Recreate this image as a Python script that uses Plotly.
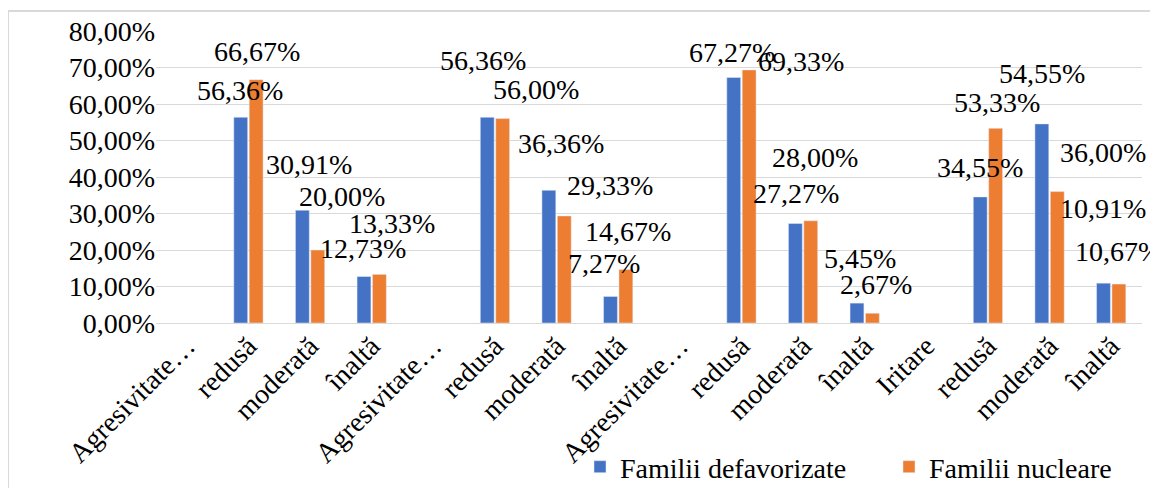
import plotly.graph_objects as go

categories = ["Agresivitate…", "redusă", "moderată", "înaltă",
              "Agresivitate…", "redusă", "moderată", "înaltă",
              "Agresivitate…", "redusă", "moderată", "înaltă",
              "Iritare", "redusă", "moderată", "înaltă"]
defavorizate = [None, 56.36, 30.91, 12.73, None, 56.36, 36.36, 7.27,
                None, 67.27, 27.27, 5.45, None, 34.55, 54.55, 10.91]
nucleare = [None, 66.67, 20.00, 13.33, None, 56.00, 29.33, 14.67,
            None, 69.33, 28.00, 2.67, None, 53.33, 36.00, 10.67]
series_names = ["Familii defavorizate", "Familii nucleare"]
y_ticks = [0, 10, 20, 30, 40, 50, 60, 70, 80]
y_tick_labels = ["0,00%", "10,00%", "20,00%", "30,00%", "40,00%",
                 "50,00%", "60,00%", "70,00%", "80,00%"]

# label offsets (px) relative to bar top / category centre, as placed in the original
blue_shift = [None, (-8, 27), (-1, 46), (-9, 28), None, (-12, 57), (4, 47), (-14, 33),
              None, (-9, 25), (-7, 30), (-5, 45), None, (-8, 29), (-8, 50), (-8, 75)]
orange_shift = [None, (9, 28), (32, 54), (20, 51), None, (41, 29), (53, 30), (10, 38),
                None, (60, 8), (12, 63), (11, 29), None, (9, 26), (53, 39), (7, 33)]

FONT = "Times New Roman"
FS = 28
BLUE = "#4472C4"
ORANGE = "#ED7D31"

x = list(range(len(categories)))

fig = go.Figure()
fig.add_trace(go.Bar(x=x, y=defavorizate, name=series_names[0], marker_color=BLUE))
fig.add_trace(go.Bar(x=x, y=nucleare, name=series_names[1], marker_color=ORANGE))


def fmt(v):
    return f"{v:.2f}".replace(".", ",") + "%"


annotations = []
for vals, shifts in ((defavorizate, blue_shift), (nucleare, orange_shift)):
    for i, v in enumerate(vals):
        if v is None:
            continue
        dx, dy = shifts[i]
        annotations.append(dict(x=i, y=v, xref="x", yref="y", text=fmt(v),
                                showarrow=False, xshift=dx, yshift=dy,
                                xanchor="center", yanchor="middle",
                                font=dict(family=FONT, size=FS, color="#000000")))

W, H = 1150, 480   # page body has an 8px margin
fig.update_layout(
    width=W, height=H,
    margin=dict(l=148, r=16, t=23, b=165, autoexpand=False),
    paper_bgcolor="white", plot_bgcolor="white",
    barmode="group", bargap=0.5, bargroupgap=0.1,
    font=dict(family=FONT, size=FS, color="#000000"),
    showlegend=True,
    legend=dict(orientation="h", xref="container", yref="container",
                x=572 / W, xanchor="left",
                y=1 - 459 / H, yanchor="middle",
                font=dict(family=FONT, size=FS, color="#000000"),
                bgcolor="rgba(0,0,0,0)", entrywidth=264, itemwidth=30),
    annotations=annotations,
    shapes=[dict(type="rect", xref="paper", yref="paper",
                 x0=(8 - 156) / 986, x1=(1170 - 156) / 986,
                 y0=(323 - 500) / 292, y1=(323 - 11) / 292,
                 line=dict(color="#d9d9d9", width=2), fillcolor="rgba(0,0,0,0)",
                 layer="below")],
)
fig.update_xaxes(tickmode="array", tickvals=x, ticktext=categories, tickangle=-45,
                 range=[-0.5, len(categories) - 0.5], showgrid=False, zeroline=False,
                 showline=False, ticks="", automargin=False,
                 tickfont=dict(family=FONT, size=FS))
fig.update_yaxes(range=[0, 80], tickmode="array", tickvals=y_ticks, ticktext=y_tick_labels,
                 showgrid=True, gridcolor="#d9d9d9", gridwidth=1, zeroline=True,
                 zerolinecolor="#d9d9d9", zerolinewidth=1, showline=False, ticks="",
                 automargin=False, tickfont=dict(family=FONT, size=FS))

fig.write_html("out.html")
